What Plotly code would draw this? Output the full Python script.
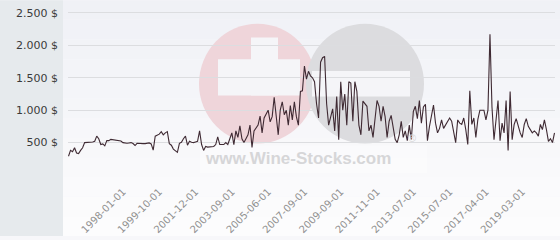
import plotly.graph_objects as go

# ---- data ----
prices = [
    290, 380, 360, 420, 340, 330, 380, 420, 500, 500,
    500, 505, 510, 520, 600, 560, 470, 480, 450, 530,
    530, 550, 545, 530, 530, 530, 525, 500, 490, 490,
    495, 500, 485, 455, 490, 485, 485, 485, 485, 490,
    495, 480, 385, 600, 610, 630, 670, 620, 650, 670,
    485, 460, 400, 370, 350, 490, 505, 560, 600, 460,
    520, 505, 500, 510, 520, 680, 470, 380, 440, 430,
    430, 435, 440, 470, 590, 470, 470, 470, 500, 470,
    560, 650, 470, 680, 580, 760, 560, 500, 560, 620,
    770, 425, 680, 720, 770, 910, 650, 880, 950, 1000,
    820, 900, 1200, 880, 620, 1000, 1130, 930, 1000, 770,
    1070, 850, 1130, 900, 770, 1290, 1300, 1680, 1480, 1600,
    1530, 1500, 1440, 1100, 880, 1740, 1810, 1830, 1100, 770,
    900, 1020, 680, 1210, 545, 1440, 1000, 1250, 770, 1440,
    1420, 830, 1440, 1290, 770, 620, 1140, 1100, 1060, 680,
    770, 580, 900, 1150, 1060, 830, 1060, 900, 580, 830,
    920, 740, 550, 500, 620, 830, 580, 680, 530, 770,
    550, 980, 1060, 870, 1150, 800, 1050, 1090, 530, 750,
    950, 1080, 800, 650, 720, 850, 720, 780, 830, 880,
    830, 650, 500, 850, 800, 780, 880, 700, 470, 1300,
    780, 880, 580, 860, 1000, 1000, 1000, 850, 1000, 2170,
    1050, 545, 900, 1150, 530, 800, 650, 1150, 380, 1290,
    545, 780, 870, 750, 650, 580, 780, 870, 750, 700,
    650, 680, 650, 600, 780, 700, 850, 700, 520, 560,
    500, 650,
]
tick_index = [27, 45, 63, 81, 99, 117, 135, 153, 171, 189, 207, 225]
tick_dates = ["1998-01-01", "1999-10-01", "2001-12-01", "2003-09-01",
              "2005-06-01", "2007-09-01", "2009-09-01", "2011-11-01",
              "2013-07-01", "2015-07-01", "2017-04-01", "2019-03-01"]
y_ticks = [0, 500, 1000, 1500, 2000, 2500]
y_labels = ["", "500 $", "1.000 $", "1.500 $", "2.000 $", "2.500 $"]

# ---- layout geometry (pixels) ----
W, H = 560, 240
L, R, T, B = 68, 5, 11, 61
PW, PH = W - L - R, H - T - B

def px(x):
    return (x - L) / PW

def py(y):
    return 1 - (y - T) / PH

fig = go.Figure()
fig.add_trace(go.Scatter(
    x=list(range(len(prices))), y=prices, mode="lines",
    line=dict(color="#3f2a33", width=1.1), hoverinfo="skip",
))

shapes = []
top_c = (240, 241, 246)
bot_c = (252, 252, 253)
n = 12
for i in range(n):
    f = i / (n - 1)
    c = tuple(round(top_c[k] + (bot_c[k] - top_c[k]) * f) for k in range(3))
    y0 = H * i / n
    y1 = H * (i + 1) / n
    shapes.append(dict(type="rect", xref="paper", yref="paper", layer="below",
                       x0=px(63), x1=px(W), y0=py(y1), y1=py(y0),
                       fillcolor="rgb(%d,%d,%d)" % c, line_width=0))
shapes.append(dict(type="rect", xref="paper", yref="paper", layer="below",
                   x0=px(0), x1=px(63), y0=py(H), y1=py(0),
                   fillcolor="#e6eaed", line_width=0))
# watermark circles
shapes.append(dict(type="circle", xref="paper", yref="paper", layer="below",
                   x0=px(199), x1=px(316), y0=py(146), y1=py(24),
                   fillcolor="#efd5da", line_width=0))
shapes.append(dict(type="circle", xref="paper", yref="paper", layer="below",
                   x0=px(306), x1=px(424), y0=py(146), y1=py(24),
                   fillcolor="#dcdcdf", line_width=0))
shapes.append(dict(type="rect", xref="paper", yref="paper", layer="below",
                   x0=px(251), x1=px(278), y0=py(97), y1=py(38),
                   fillcolor="#f5f5f8", line_width=0))
shapes.append(dict(type="rect", xref="paper", yref="paper", layer="below",
                   x0=px(218), x1=px(300), y0=py(97), y1=py(60),
                   fillcolor="#f5f5f8", line_width=0))
shapes.append(dict(type="rect", xref="paper", yref="paper", layer="below",
                   x0=px(312), x1=px(410), y0=py(98), y1=py(72),
                   fillcolor="#f5f5f8", line_width=0))
shapes.append(dict(type="rect", xref="paper", yref="paper", layer="below",
                   x0=px(200), x1=px(427), y0=py(176), y1=py(148),
                   fillcolor="rgba(255,255,255,0.35)", line_width=0))

fig.update_layout(
    width=W, height=H,
    margin=dict(l=L, r=R, t=T, b=B, pad=0),
    paper_bgcolor="#f7f7fa",
    plot_bgcolor="rgba(0,0,0,0)",
    showlegend=False,
    shapes=shapes,
    annotations=[
        dict(text="<b>www.Wine-Stocks.com</b>", xref="paper", yref="paper",
             x=px(298), y=py(161), xanchor="center", yanchor="middle",
             showarrow=False,
             font=dict(family="Liberation Sans", size=17, color="#d6d6d8")),
        dict(text="®", xref="paper", yref="paper", x=px(412), y=py(140),
             xanchor="center", yanchor="middle", showarrow=False,
             font=dict(family="Liberation Sans", size=11, color="#d6d6d8")),
    ],
    xaxis=dict(
        range=[-0.25, 241.25], showgrid=False, zeroline=False, showline=False,
        tickmode="array", tickvals=tick_index, ticktext=tick_dates,
        tickangle=-45, ticks="", ticklen=0, ticklabelstandoff=7,
        tickfont=dict(family="DejaVu Sans", size=10, color="#909090"),
    ),
    yaxis=dict(
        range=[-15.15, 2530.3], showgrid=True, gridcolor="#dcdde0", gridwidth=1,
        zeroline=False, showline=False,
        tickmode="array", tickvals=y_ticks, ticktext=y_labels,
        ticks="", ticklabelstandoff=9,
        tickfont=dict(family="DejaVu Sans", size=11, color="#3a3a3a"),
    ),
)

fig.write_html("out.html")
